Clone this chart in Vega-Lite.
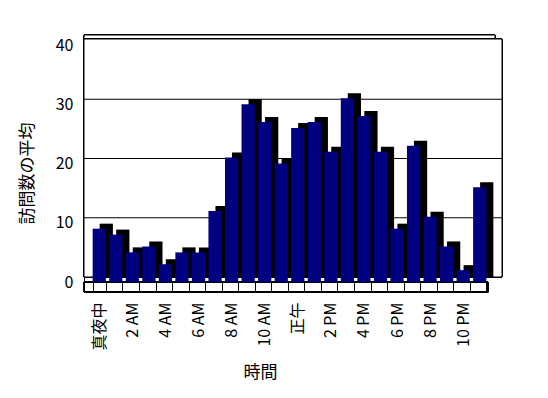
{
  "$schema": "https://vega.github.io/schema/vega-lite/v6.json",
  "autosize": "none",
  "padding": {"left": 84, "top": 45, "right": 60, "bottom": 116},
  "width": 404,
  "height": 237,
  "background": "white",
  "config": {"view": {"stroke": null}, "font": "Noto Sans CJK JP"},
  "data": {"values": [
    {"hour": 0, "label": "真夜中", "visits": 9},
    {"hour": 1, "label": "1 AM", "visits": 8},
    {"hour": 2, "label": "2 AM", "visits": 5},
    {"hour": 3, "label": "3 AM", "visits": 6},
    {"hour": 4, "label": "4 AM", "visits": 3},
    {"hour": 5, "label": "5 AM", "visits": 5},
    {"hour": 6, "label": "6 AM", "visits": 5},
    {"hour": 7, "label": "7 AM", "visits": 12},
    {"hour": 8, "label": "8 AM", "visits": 21},
    {"hour": 9, "label": "9 AM", "visits": 30},
    {"hour": 10, "label": "10 AM", "visits": 27},
    {"hour": 11, "label": "11 AM", "visits": 20},
    {"hour": 12, "label": "正午", "visits": 26},
    {"hour": 13, "label": "1 PM", "visits": 27},
    {"hour": 14, "label": "2 PM", "visits": 22},
    {"hour": 15, "label": "3 PM", "visits": 31},
    {"hour": 16, "label": "4 PM", "visits": 28},
    {"hour": 17, "label": "5 PM", "visits": 22},
    {"hour": 18, "label": "6 PM", "visits": 9},
    {"hour": 19, "label": "7 PM", "visits": 23},
    {"hour": 20, "label": "8 PM", "visits": 11},
    {"hour": 21, "label": "9 PM", "visits": 6},
    {"hour": 22, "label": "10 PM", "visits": 2},
    {"hour": 23, "label": "11 PM", "visits": 16}
  ]},
  "layer": [
    {
      "mark": {"type": "rect", "fill": "white", "stroke": "black", "strokeWidth": 1, "xOffset": 7, "x2Offset": 12, "yOffset": -10, "y2Offset": -5},
      "encoding": {
        "y": {"datum": 40, "type": "quantitative", "scale": {"domain": [0, 40]}},
        "y2": {"datum": 0}
      }
    },
    {
      "mark": {"type": "rect", "fill": "white", "stroke": "black", "strokeWidth": 1, "xOffset": 14, "x2Offset": 6, "yOffset": -6, "y2Offset": -5},
      "encoding": {
        "y": {"datum": 40, "type": "quantitative"},
        "y2": {"datum": 0}
      }
    },
    {
      "data": {"values": [{"g": 10}, {"g": 20}, {"g": 30}]},
      "mark": {"type": "rule", "color": "black", "strokeWidth": 1, "xOffset": 14, "x2Offset": 6, "yOffset": -5},
      "encoding": {"y": {"field": "g", "type": "quantitative"}}
    },
    {
      "mark": {"type": "rect", "fillOpacity": 0, "fill": "white", "stroke": "black", "strokeWidth": 1, "y2Offset": 10},
      "encoding": {
        "y": {"datum": 0, "type": "quantitative"},
        "y2": {"datum": 0}
      }
    },
    {
      "mark": {"type": "bar", "color": "black", "xOffset": 7, "yOffset": -5, "y2Offset": -5},
      "encoding": {
        "x": {"field": "hour", "type": "ordinal", "sort": null,
          "scale": {"range": [7, 404], "paddingInner": 0.2, "paddingOuter": 0.1},
          "axis": {
            "title": "時間", "titleFontSize": 17, "titleFontWeight": "normal", "titlePadding": 14, "titleX": 176,
            "offset": 10, "tickBand": "extent", "tickSize": -10, "tickColor": "black", "domainColor": "black",
            "labelAngle": -90, "labelFontSize": 16, "labelColor": "black", "labelPadding": 20,
            "labelExpr": "!isValid(datum.value) || !isNumber(datum.value) ? '' : datum.value == 0 ? '真夜中' : datum.value == 12 ? '正午' : datum.value % 2 == 1 ? '' : datum.value < 12 ? datum.value + ' AM' : (datum.value - 12) + ' PM'"
          }
        },
        "y": {"field": "visits", "type": "quantitative",
          "scale": {"domain": [0, 40]},
          "axis": {
            "title": "訪問数の平均", "titleFontSize": 17, "titleFontWeight": "normal", "titlePadding": 19, "titleY": 128,
            "values": [0, 10, 20, 30, 40], "grid": false, "tickSize": -8, "tickColor": "black", "domainColor": "black",
            "labelFontSize": 16, "labelColor": "black", "labelPadding": 19
          }
        }
      }
    },
    {
      "mark": {"type": "bar", "color": "#000080"},
      "encoding": {
        "x": {"field": "hour", "type": "ordinal", "sort": null},
        "y": {"field": "visits", "type": "quantitative"}
      }
    }
  ]
}
